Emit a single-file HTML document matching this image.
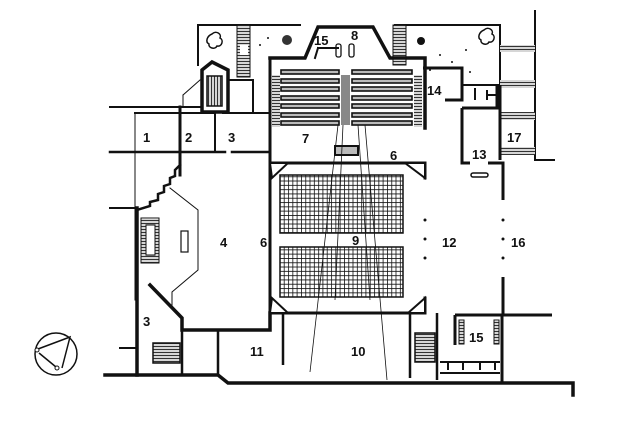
<!DOCTYPE html>
<html><head><meta charset="utf-8"><style>
html,body{margin:0;padding:0;background:#fff;width:624px;height:425px;overflow:hidden}
svg{display:block}
text{font-family:"Liberation Sans",sans-serif;font-weight:bold;font-size:13px;fill:#111}
</style></head><body>
<svg width="624" height="425" viewBox="0 0 624 425" xmlns="http://www.w3.org/2000/svg">
<defs>
<pattern id="grid" width="4.3" height="4.3" patternUnits="userSpaceOnUse">
<rect width="4.3" height="4.3" fill="#fff"/>
<path d="M0 0H4.3M0 0V4.3" stroke="#111" stroke-width="1.6"/>
</pattern>
<pattern id="hatch" width="3" height="3" patternUnits="userSpaceOnUse">
<rect width="3" height="3" fill="#fff"/><path d="M0 1.5H3" stroke="#333" stroke-width="1.4"/>
</pattern>
<pattern id="vhatch" width="3" height="3" patternUnits="userSpaceOnUse">
<rect width="3" height="3" fill="#fff"/><path d="M1.5 0V3" stroke="#333" stroke-width="1.4"/>
</pattern>
</defs>
<g fill="none" stroke="#111" stroke-linecap="square">
<path d="M198 25H300M395 25H500V85H462" stroke-width="2"/>
<path d="M198 25V65" stroke-width="2"/>
<rect x="237" y="25" width="13" height="52" fill="url(#hatch)" stroke-width="1"/>
<rect x="240" y="45" width="8" height="10" fill="#fff" stroke="none"/>
<rect x="393" y="25" width="13" height="40" fill="url(#hatch)" stroke-width="1"/>
<path d="M212 62L202 70V112H228V70Z" stroke-width="3.5"/>
<rect x="207" y="76" width="15" height="30" fill="url(#vhatch)" stroke-width="1.5"/>
<path d="M183 95L200 80M183 95V107" stroke-width="1"/>
<path d="M228 80H253V113" stroke-width="2"/>
<path d="M110 107H200" stroke-width="2"/>
<path d="M135 113V300" stroke-width="1" stroke-dasharray="3,1"/>
<path d="M135 113H180M180 113H215M223 113H268" stroke-width="2"/>
<path d="M110 152H225M232 152H270" stroke-width="2.5"/>
<path d="M180 107V175" stroke-width="3"/>
<path d="M215 113V150" stroke-width="2"/>
<path d="M180 165L175 170V176L170 178V184L164 186V192L158 194V200L150 202V206L137 210" stroke-width="2.5"/>
<path d="M110 208H137M120 348H137" stroke-width="2"/>
<path d="M137 208V375" stroke-width="3.5"/>
<path d="M170 188L198 210V270L172 292V305" stroke-width="1"/>
<rect x="141" y="218" width="18" height="45" fill="url(#hatch)" stroke-width="1"/>
<rect x="146" y="225" width="9" height="30" fill="#fff" stroke-width="1"/>
<rect x="181" y="231" width="7" height="21" stroke-width="1.2"/>
<path d="M150 285L182 318V330H270V313" stroke-width="3.5"/>
<rect x="153" y="343" width="27" height="20" fill="url(#hatch)" stroke-width="1.5"/>
<path d="M182 330V375M218 330V375" stroke-width="2.5"/>
<path d="M105 375H218L228 383H573V395" stroke-width="3.5"/>
<path d="M270 58H305L318 27H373L390 58H425V128" stroke-width="3.5"/>
<path d="M270 58V313H425V298M425 178V163H270" stroke-width="3"/>
<path d="M318 48H338M318 48L315 58" stroke-width="2"/>
<rect x="336" y="44" width="5" height="13" rx="2" stroke-width="1.3"/>
<rect x="349" y="44" width="5" height="13" rx="2" stroke-width="1.3"/>
<rect x="272" y="75" width="8" height="52" fill="url(#hatch)" stroke="none"/>
<rect x="414" y="75" width="8" height="52" fill="url(#hatch)" stroke="none"/>
<rect x="341" y="75" width="9" height="50" fill="#888" stroke="none"/>
</g>
<g fill="#bbb" stroke="#111" stroke-width="1.6">
<rect x="281" y="70" width="58" height="4"/><rect x="352" y="70" width="60" height="4"/>
<rect x="281" y="79" width="58" height="4"/><rect x="352" y="79" width="60" height="4"/>
<rect x="281" y="87" width="58" height="4"/><rect x="352" y="87" width="60" height="4"/>
<rect x="281" y="96" width="58" height="4"/><rect x="352" y="96" width="60" height="4"/>
<rect x="281" y="104" width="58" height="4"/><rect x="352" y="104" width="60" height="4"/>
<rect x="281" y="113" width="58" height="4"/><rect x="352" y="113" width="60" height="4"/>
<rect x="281" y="121" width="58" height="4"/><rect x="352" y="121" width="60" height="4"/>
<rect x="335" y="146" width="23" height="9" stroke-width="2"/>
</g>
<g stroke="#111" fill="none">
<path d="M270 163H288L272 178Z M425 163H405L425 178Z M270 313H288L272 298Z M425 313H408L425 298Z" fill="#fff" stroke-width="2"/>
<rect x="280" y="175" width="123" height="58" fill="url(#grid)" stroke-width="1.5"/>
<rect x="280" y="247" width="123" height="50" fill="url(#grid)" stroke-width="1.5"/>
<path d="M338 125L310 372M365 125L387 380M343 125L335 300M358 125L370 300" stroke-width="0.8"/>
<path d="M283 313V365M410 313V378M437 313V380" stroke-width="2.5"/>
<rect x="415" y="333" width="20" height="29" fill="url(#hatch)" stroke-width="1.5"/>
<path d="M455 315H552M455 315V345M502 315V382" stroke-width="3"/>
<rect x="459" y="320" width="5" height="24" fill="url(#hatch)" stroke-width="1"/>
<rect x="494" y="320" width="5" height="24" fill="url(#hatch)" stroke-width="1"/>
<path d="M440 362H500M440 373H500M448 362V370M463 362V370M480 362V370M495 362V370" stroke-width="2"/>
<path d="M423 68H462V100H445" stroke-width="3"/>
<path d="M462 108V163H470M488 163H503V200M503 277V315M462 108H497V85" stroke-width="3"/>
<path d="M475 88V100" stroke-width="2"/><path d="M487 95H497M487 90V100" stroke-width="2"/>
<rect x="471" y="173" width="17" height="4" rx="2" stroke-width="1.5"/>
<path d="M535 10V160H555" stroke-width="2"/>
<rect x="500" y="45" width="35" height="7" fill="url(#hatch)" stroke="none"/>
<rect x="500" y="80" width="35" height="8" fill="url(#hatch)" stroke="none"/>
<rect x="500" y="112" width="35" height="8" fill="url(#hatch)" stroke="none"/>
<rect x="500" y="147" width="35" height="8" fill="url(#hatch)" stroke="none"/>
<path d="M500 85V160" stroke-width="3"/>
<circle cx="56" cy="354" r="21" stroke-width="1.5"/>
<path d="M38 349L70 337L62 368M39 353L56 367" stroke-width="1.5"/>
<circle cx="37" cy="350" r="2" fill="#fff" stroke-width="1"/>
<circle cx="57" cy="368" r="2" fill="#fff" stroke-width="1"/>
<circle cx="287" cy="40" r="5" fill="#333" stroke="none"/>
<circle cx="421" cy="41" r="4" fill="#111" stroke="none"/>
<path d="M212 34c4-4 10 0 8 4c4 2 2 9-3 8c-2 4-9 2-8-2c-4-2-2-8 3-10z" stroke-width="1.5"/>
<path d="M484 30c4-4 10 0 8 4c4 2 2 9-3 8c-2 4-9 2-8-2c-4-2-2-8 3-10z" stroke-width="1.5"/>
</g>
<g fill="#111">
<circle cx="425" cy="220" r="1.5"/><circle cx="425" cy="239" r="1.5"/><circle cx="425" cy="258" r="1.5"/>
<circle cx="503" cy="220" r="1.5"/><circle cx="503" cy="239" r="1.5"/><circle cx="503" cy="258" r="1.5"/>
<circle cx="440" cy="55" r="1"/><circle cx="452" cy="62" r="1"/><circle cx="466" cy="50" r="1"/><circle cx="430" cy="70" r="1"/><circle cx="470" cy="72" r="1"/><circle cx="260" cy="45" r="1"/><circle cx="268" cy="38" r="1"/>
</g>
<g>
<text x="143" y="142">1</text><text x="185" y="142">2</text><text x="228" y="142">3</text>
<text x="302" y="143">7</text><text x="390" y="160">6</text>
<text x="314" y="45">15</text><text x="351" y="40">8</text>
<text x="427" y="95">14</text><text x="472" y="159">13</text><text x="507" y="142">17</text>
<text x="220" y="247">4</text><text x="260" y="247">6</text><text x="352" y="245">9</text>
<text x="442" y="247">12</text><text x="511" y="247">16</text>
<text x="143" y="326">3</text><text x="250" y="356">11</text><text x="351" y="356">10</text><text x="469" y="342">15</text>
</g>
</svg>
</body></html>
